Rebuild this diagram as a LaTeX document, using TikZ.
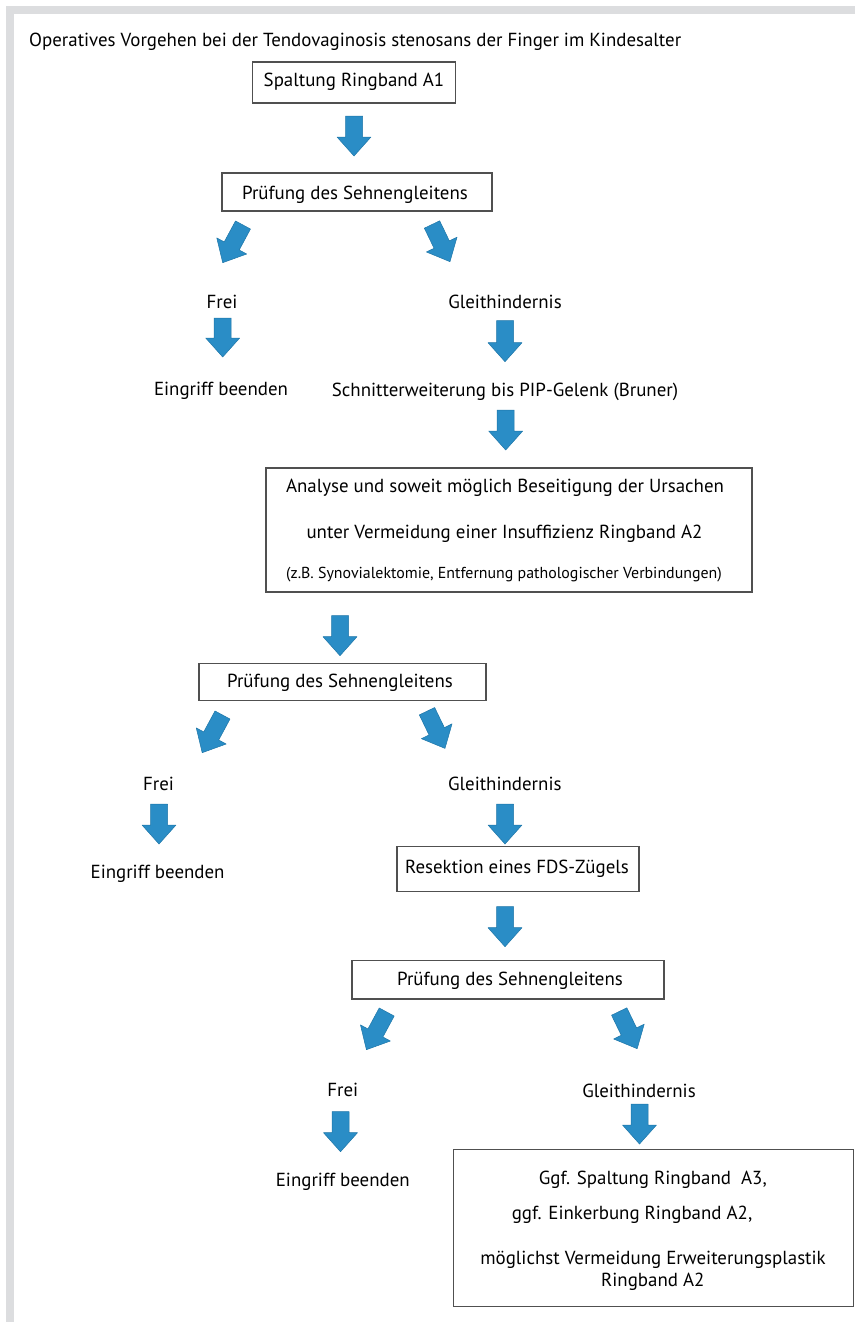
\documentclass[tikz,border=0pt]{standalone}
\usepackage{fontspec}
\setmainfont{PT Sans}
\definecolor{framegray}{HTML}{DCDDDF}
\definecolor{arrowblue}{HTML}{2A8DC6}
\definecolor{arrowedge}{HTML}{1E76A8}
\definecolor{boxline}{HTML}{505050}
\begin{document}
\begin{tikzpicture}[x=1pt,y=-1pt,
  font=\fontsize{18.9pt}{22pt}\selectfont,
  txt/.style={inner sep=0pt, anchor=base},
  box/.style={draw=boxline, line width=1.2pt, fill=white, inner sep=0pt},
  arrowfill/.style={fill=arrowblue, draw=arrowedge, line width=0.5pt, line join=round},
  pics/blockarrow/.style={code={
    \path[arrowfill] (0,8.5) -- ({#1-19},8.5) -- ({#1-19},17) -- (#1,0)
      -- ({#1-19},-17) -- ({#1-19},-8.5) -- (0,-8.5) -- cycle;
  }}
]
\useasboundingbox (0,0) rectangle (855,1322);
% frame
\fill[framegray] (6,6) rectangle (855,14);
\fill[framegray] (6,6) rectangle (14,1322);

% title
\node[txt, anchor=base west] (title) at (29,46.5) {Operatives Vorgehen bei der Tendovaginosis stenosans der Finger im Kindesalter};

% boxes
\node[box, minimum width=203pt, minimum height=41pt] (b1) at (354,82.5) {};
\node[txt] (b1t) at (354,86) {Spaltung Ringband A1};

\node[box, minimum width=270pt, minimum height=38pt] (b2) at (357,192) {};
\node[txt] (b2t) at (355,199) {Prüfung des Sehnengleitens};

\node[txt] (frei1) at (222,308.3) {Frei};
\node[txt] (gl1) at (505,308.3) {Gleithindernis};
\node[txt] (end1) at (221,395) {Eingriff beenden};
\node[txt] (schnitt) at (505,396) {Schnitterweiterung bis PIP-Gelenk (Bruner)};

\node[box, minimum width=486pt, minimum height=124pt] (b3) at (509,530) {};
\node[txt] (b3a) at (505,492.7) {Analyse und soweit möglich Beseitigung der Ursachen};
\node[txt] (b3b) at (504.5,538.3) {unter Vermeidung einer Insuffizienz Ringband A2};
\node[txt, font=\fontsize{15.9pt}{18pt}\selectfont] (b3c) at (504,578.3) {(z.B. Synovialektomie, Entfernung pathologischer Verbindungen)};

\node[box, minimum width=287pt, minimum height=37.4pt] (b4) at (342.5,682) {};
\node[txt] (b4t) at (340,687) {Prüfung des Sehnengleitens};

\node[txt] (frei2) at (158.6,790) {Frei};
\node[txt] (gl2) at (504.8,790) {Gleithindernis};
\node[txt] (end2) at (157.6,878) {Eingriff beenden};

\node[box, minimum width=242pt, minimum height=45pt] (b5) at (518,869.2) {};
\node[txt] (b5t) at (517,873) {Resektion eines FDS-Zügels};

\node[box, minimum width=312pt, minimum height=38.3pt] (b6) at (507.9,979.9) {};
\node[txt] (b6t) at (510,985) {Prüfung des Sehnengleitens};

\node[txt] (frei3) at (342.8,1096.5) {Frei};
\node[txt] (gl3) at (639,1097) {Gleithindernis};
\node[txt] (end3) at (342.8,1186) {Eingriff beenden};

\node[box, minimum width=400pt, minimum height=157.4pt] (b7) at (653.3,1228) {};
\node[txt] (b7a) at (652.8,1184.3) {Ggf. Spaltung Ringband\ \ A3,};
\node[txt] (b7b) at (632,1219.3) {ggf. Einkerbung Ringband A2,};
\node[txt] (b7c) at (653,1264.3) {möglichst Vermeidung Erweiterungsplastik};
\node[txt] (b7d) at (652.8,1286.7) {Ringband A2};

% arrows
\pic[rotate=-90] (a1) at (354,116) {blockarrow=40};
\pic[rotate=241.7] (d1l) at (243,225) {blockarrow=42.8};
\pic[rotate=295.8] (d1r) at (432,224.5) {blockarrow=41.3};
\pic[rotate=-90] (af1) at (222.7,318) {blockarrow=39};
\pic[rotate=-90] (ag1) at (505,320.7) {blockarrow=41};
\pic[rotate=-90] (a3) at (505.7,410) {blockarrow=40};
\pic[rotate=-90] (a4) at (340,615.7) {blockarrow=40};
\pic[rotate=241.7] (d2l) at (222.5,715) {blockarrow=42.8};
\pic[rotate=295.8] (d2r) at (427,711.2) {blockarrow=41.3};
\pic[rotate=-90] (af2) at (159,804) {blockarrow=40};
\pic[rotate=-90] (ag2) at (505,804) {blockarrow=40};
\pic[rotate=-90] (a6) at (505,906.7) {blockarrow=40};
\pic[rotate=241.7] (d3l) at (386.7,1012) {blockarrow=42.8};
\pic[rotate=295.8] (d3r) at (619.2,1011.5) {blockarrow=41.3};
\pic[rotate=-90] (af3) at (340.5,1111.7) {blockarrow=40};
\pic[rotate=-90] (ag3) at (639.5,1104) {blockarrow=40};
\end{tikzpicture}
\end{document}
